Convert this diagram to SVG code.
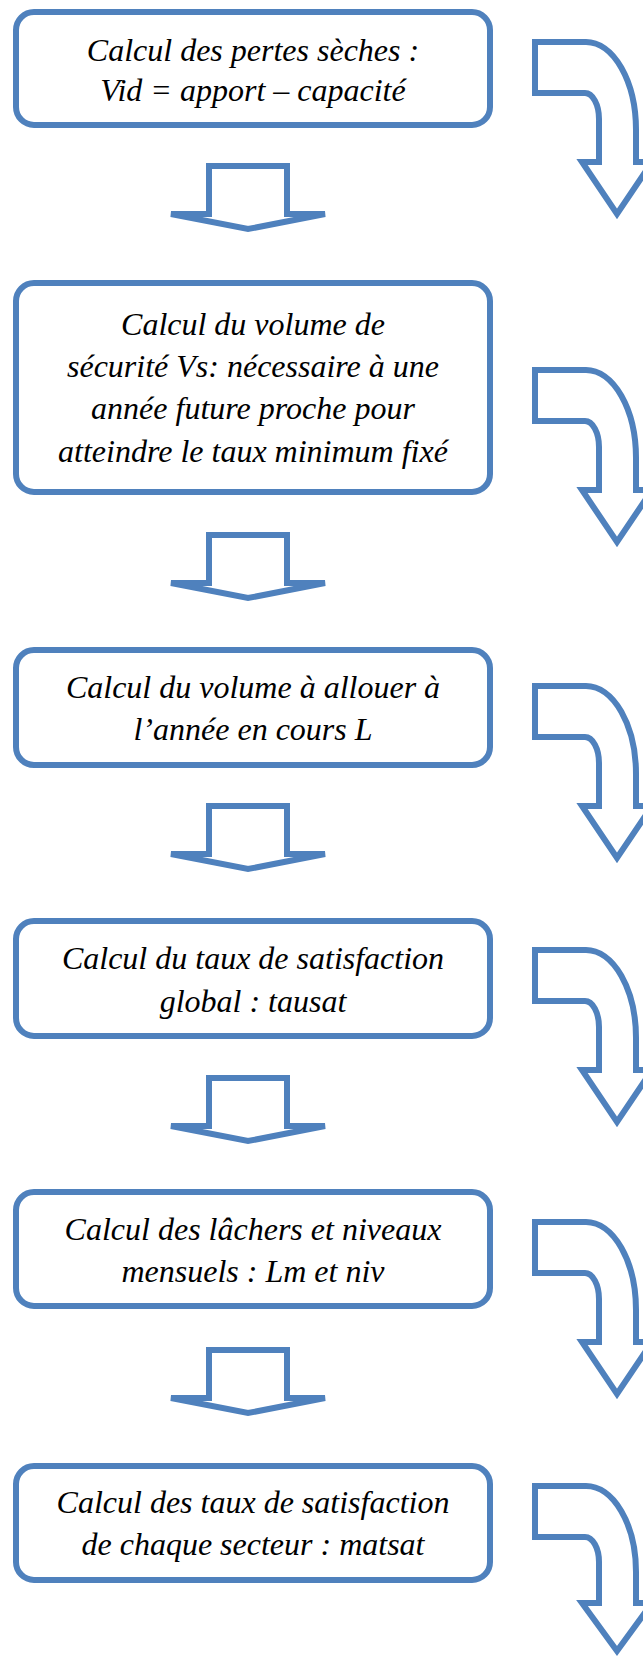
<svg xmlns="http://www.w3.org/2000/svg" width="643" height="1657" viewBox="0 0 643 1657">
<style>
.box{fill:#fff;stroke:#4F81BD;stroke-width:6}
.arr{fill:#fff;stroke:#4F81BD;stroke-width:6;stroke-linejoin:miter}
text{font-family:'Liberation Serif','Tinos','Times New Roman','DejaVu Serif',serif;font-style:italic;font-size:32px;fill:#000;text-anchor:middle}
</style>
<defs>
<path id="down" class="arr" d="M209 3 L287 3 L287 51 L325 51 L248 66 L171 51 L209 51 Z"/>
<path id="bent" class="arr" d="M535 3 L586 3 A50 88 0 0 1 636 91 L636 123 L652 123 L617 175 L582 123 L599 123 L599 80 A14 26 0 0 0 585 54 L535 54 Z"/>
</defs>
<rect width="643" height="1657" fill="#fff"/>
<g id="connectors">
<use href="#down" y="163"/>
<use href="#down" y="532"/>
<use href="#down" y="803"/>
<use href="#down" y="1075"/>
<use href="#down" y="1347"/>
<use href="#bent" y="39"/>
<use href="#bent" y="367"/>
<use href="#bent" y="683"/>
<use href="#bent" y="947"/>
<use href="#bent" y="1219"/>
<path class="arr" d="M535 1486 L586 1486 A50 86 0 0 1 636 1572 L636 1603 L652 1603 L617 1651 L582 1603 L599 1603 L599 1562 A14 25 0 0 0 585 1537 L535 1537 Z"/>
</g>
<g font-family="Liberation Serif, serif" font-style="italic">
<g id="node1">
<rect class="box" x="16" y="12" width="474" height="113" rx="18"/>
<text x="253" y="61">Calcul des pertes sèches :</text>
<text x="253" y="101">Vid = apport – capacité</text>
</g>
<g id="node2">
<rect class="box" x="16" y="283" width="474" height="209" rx="18"/>
<text x="253" y="335">Calcul du volume de</text>
<text x="253" y="377">sécurité Vs: nécessaire à une</text>
<text x="253" y="419">année future proche pour</text>
<text x="253" y="462">atteindre le taux minimum fixé</text>
</g>
<g id="node3">
<rect class="box" x="16" y="650" width="474" height="115" rx="18"/>
<text x="253" y="698">Calcul du volume à allouer à</text>
<text x="253" y="740">l’année en cours L</text>
</g>
<g id="node4">
<rect class="box" x="16" y="921" width="474" height="115" rx="18"/>
<text x="253" y="969">Calcul du taux de satisfaction</text>
<text x="253" y="1012">global : tausat</text>
</g>
<g id="node5">
<rect class="box" x="16" y="1192" width="474" height="114" rx="18"/>
<text x="253" y="1240">Calcul des lâchers et niveaux</text>
<text x="253" y="1282">mensuels : Lm et niv</text>
</g>
<g id="node6">
<rect class="box" x="16" y="1466" width="474" height="114" rx="18"/>
<text x="253" y="1513">Calcul des taux de satisfaction</text>
<text x="253" y="1555">de chaque secteur : matsat</text>
</g>
</g>
</svg>
